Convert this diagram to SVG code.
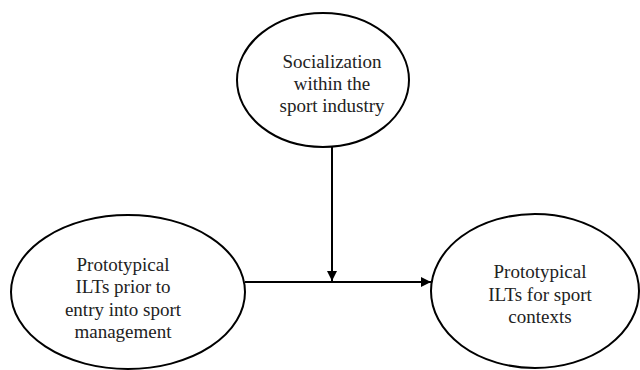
<svg xmlns="http://www.w3.org/2000/svg" width="640" height="370" viewBox="0 0 640 370">
<defs>
<style>
.node ellipse{fill:#fff;stroke:#000;stroke-width:2}
.lbl{font-family:"Liberation Serif","Times New Roman",serif;font-size:19px;fill:#222;text-anchor:middle}
.conn line{stroke:#000;stroke-width:2}
</style>
<marker id="ah" markerWidth="10" markerHeight="10" refX="10" refY="5" orient="auto" markerUnits="userSpaceOnUse">
<path d="M0,0 L10,5 L0,10 Z" fill="#000"/>
</marker>
</defs>
<rect width="640" height="370" fill="#fff"/>
<g class="conn" id="connectors">
<line x1="245" y1="282" x2="431" y2="282" marker-end="url(#ah)"/>
<line x1="332" y1="146" x2="332" y2="281" marker-end="url(#ah)"/>
</g>
<g class="node" id="socialization">
<ellipse cx="323" cy="80" rx="86" ry="67"/>
<text class="lbl" x="332" y="68">Socialization</text>
<text class="lbl" x="332" y="90">within the</text>
<text class="lbl" x="332" y="112">sport industry</text>
</g>
<g class="node" id="prior">
<ellipse cx="128" cy="292" rx="117" ry="77"/>
<text class="lbl" x="123" y="271">Prototypical</text>
<text class="lbl" x="123" y="293">ILTs prior to</text>
<text class="lbl" x="123" y="316">entry into sport</text>
<text class="lbl" x="123" y="338">management</text>
</g>
<g class="node" id="contexts">
<ellipse cx="535" cy="291" rx="104" ry="77"/>
<text class="lbl" x="540" y="278">Prototypical</text>
<text class="lbl" x="540" y="301">ILTs for sport</text>
<text class="lbl" x="540" y="323">contexts</text>
</g>
</svg>
